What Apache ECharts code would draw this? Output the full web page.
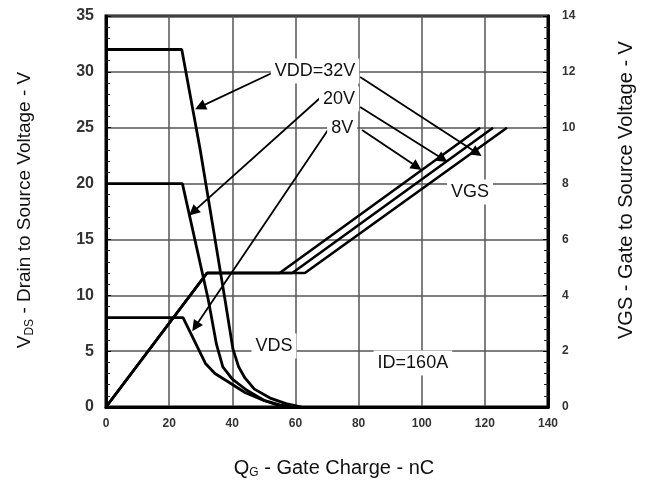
<!DOCTYPE html>
<html><head><meta charset="utf-8">
<script src="https://cdn.jsdelivr.net/npm/echarts@6/dist/echarts.min.js"></script>
<style>html,body{margin:0;padding:0;background:#fff}#c{width:650px;height:486px}</style>
</head><body><div id="c"></div>
<script>
// ---- data ----
const xTickLabels = [0, 20, 40, 60, 80, 100, 120, 140];
const leftTickLabels = [0, 5, 10, 15, 20, 25, 30, 35];
const rightTickLabels = [0, 2, 4, 6, 8, 10, 12, 14];

// VDS curves (Qg nC, VDS V)
const vds32Q = [0, 24, 29.8, 37.7, 40.2, 42, 44, 47, 52, 57, 62];
const vds32V = [32, 32, 23.1, 9.6, 5.2, 3.6, 2.6, 1.6, 0.8, 0.3, 0];
const vds20Q = [0, 24.2, 32.4, 35, 37, 40, 44.6, 50, 55, 59];
const vds20V = [20, 20, 9.6, 5.6, 3.6, 2.5, 1.5, 0.6, 0.2, 0];
const vds8Q = [0, 24.4, 31.5, 34.5, 39.3, 44, 49.8, 54, 57];
const vds8V = [8, 8, 3.9, 3.0, 2.15, 1.3, 0.6, 0.2, 0];

// VGS curves (Qg nC, VGS V)
const vgs32Q = [0, 32, 63, 127];
const vgs32V = [0, 4.8, 4.8, 10];
const vgs20Q = [0, 32, 59, 122.6];
const vgs20V = [0, 4.8, 4.8, 10];
const vgs8Q = [0, 32, 55, 118.5];
const vgs8V = [0, 4.8, 4.8, 10];

// annotations (data coords on Qg / VDS axes)
const labelTexts = ['VDD=32V', '20V', '8V', 'VGS', 'VDS', 'ID=160A'];
const labelQ = [66.2, 73.8, 74.8, 115.3, 53.2, 97.2];
const labelV = [30.08, 27.57, 24.98, 19.25, 5.46, 3.94];
const arrowFromQ = [52.6, 67.8, 70.3, 80.5, 80.5, 81.1];
const arrowFromV = [29.9, 27.66, 24.8, 29.54, 26.86, 24.8];
const arrowToQ = [29.8, 27.6, 28.3, 117.5, 106.7, 98.5];
const arrowToV = [26.86, 17.46, 7.2, 22.74, 22.2, 21.5];

const zip = (a, b) => a.map((v, i) => [v, b[i]]);
const FONT = "'Liberation Sans', Arial, sans-serif";

const chart = echarts.init(document.getElementById('c'), null, {renderer: 'canvas'});

function lineSeries(name, q, v, yIdx, w) {
  return {
    name, type: 'line', xAxisIndex: 0, yAxisIndex: yIdx, data: zip(q, v),
    showSymbol: false, symbol: 'none', animation: false, silent: true, z: 3,
    lineStyle: {color: '#000', width: w}
  };
}

const series = [
  lineSeries('VDS 32V', vds32Q, vds32V, 0, 2.8),
  lineSeries('VDS 20V', vds20Q, vds20V, 0, 2.8),
  lineSeries('VDS 8V', vds8Q, vds8V, 0, 2.8),
  lineSeries('VGS 32V', vgs32Q, vgs32V, 1, 2.6),
  lineSeries('VGS 20V', vgs20Q, vgs20V, 1, 2.6),
  lineSeries('VGS 8V', vgs8Q, vgs8V, 1, 2.6)
];

series.push({
  name: 'annotations', type: 'line', xAxisIndex: 0, yAxisIndex: 0, data: [],
  animation: false, silent: true, z: 5,
  markLine: {
    silent: true, animation: false, symbol: ['none', 'triangle'], symbolSize: 11,
    lineStyle: {color: '#000', width: 1.8, type: 'solid'},
    itemStyle: {color: '#000'},
    label: {show: false},
    data: arrowFromQ.map((q, i) => [{coord: [q, arrowFromV[i]]}, {coord: [arrowToQ[i], arrowToV[i]]}])
  },
  markPoint: {
    silent: true, animation: false, symbol: 'rect', symbolSize: 1,
    itemStyle: {color: 'rgba(0,0,0,0)'},
    label: {
      show: true, position: 'inside', color: '#111', fontSize: 18, fontFamily: FONT,
      backgroundColor: '#fff', padding: [4, 4, 3, 4],
      formatter: p => p.name
    },
    data: labelTexts.map((t, i) => ({name: t, coord: [labelQ[i], labelV[i]]}))
  }
});

const option = {
  animation: false,
  backgroundColor: '#fff',
  grid: {left: 106, right: 102, top: 16, bottom: 79, show: true, borderColor: '#000', borderWidth: 3, backgroundColor: 'transparent'},
  xAxis: {
    type: 'value', min: 0, max: 140, interval: 20,
    axisLine: {show: true, lineStyle: {color: '#000', width: 3}},
    axisTick: {show: false},
    axisLabel: {color: '#333', fontSize: 12, fontWeight: 'bold', fontFamily: FONT, margin: 11,
      formatter: v => xTickLabels.includes(v) ? String(v) : ''},
    splitLine: {show: true, lineStyle: {color: '#555', width: 1.5}}
  },
  yAxis: [
    {
      type: 'value', position: 'left', min: 0, max: 35, interval: 5,
      axisLine: {show: true, lineStyle: {color: '#000', width: 3}},
      axisTick: {show: true, inside: true, length: 5, lineStyle: {color: '#000', width: 1}},
      minorTick: {show: true, splitNumber: 5, length: 4, lineStyle: {color: '#222', width: 1}},
      axisLabel: {color: '#333', fontSize: 16, fontWeight: 'bold', fontFamily: FONT, margin: 12,
        formatter: v => leftTickLabels.includes(v) ? String(v) : ''},
      splitLine: {show: true, lineStyle: {color: '#555', width: 1.5}}
    },
    {
      type: 'value', position: 'right', min: 0, max: 14, interval: 2,
      axisLine: {show: true, lineStyle: {color: '#000', width: 3}},
      axisTick: {show: true, inside: true, length: 5, lineStyle: {color: '#000', width: 1}},
      minorTick: {show: true, splitNumber: 5, length: 4, lineStyle: {color: '#222', width: 1}},
      axisLabel: {color: '#333', fontSize: 12, fontWeight: 'bold', fontFamily: FONT, margin: 14,
        formatter: v => rightTickLabels.includes(v) ? String(v) : ''},
      splitLine: {show: false}
    }
  ],
  graphic: [
    {
      type: 'text', x: 334, y: 468, silent: true,
      style: {
        text: '{a|Q}{s|G}{a| - Gate Charge - nC}', align: 'center', verticalAlign: 'middle',
        rich: {a: {fontSize: 20, fontFamily: FONT, fill: '#111'}, s: {fontSize: 12, fontFamily: FONT, fill: '#111', padding: [9, 0, 0, 0]}}
      }
    },
    {
      type: 'text', x: 25, y: 210, rotation: Math.PI / 2, silent: true,
      style: {
        text: '{a|V}{s|DS}{a| - Drain to Source Voltage - V}', align: 'center', verticalAlign: 'middle',
        rich: {a: {fontSize: 19, fontFamily: FONT, fill: '#111'}, s: {fontSize: 12, fontFamily: FONT, fill: '#111', padding: [9, 0, 0, 0]}}
      }
    },
    {
      type: 'text', x: 626, y: 190, rotation: Math.PI / 2, silent: true,
      style: {
        text: 'VGS - Gate to Source Voltage - V', align: 'center', verticalAlign: 'middle',
        fontSize: 20, fontFamily: FONT, fill: '#111'
      }
    }
  ],
  series
};
chart.setOption(option);
</script></body></html>
